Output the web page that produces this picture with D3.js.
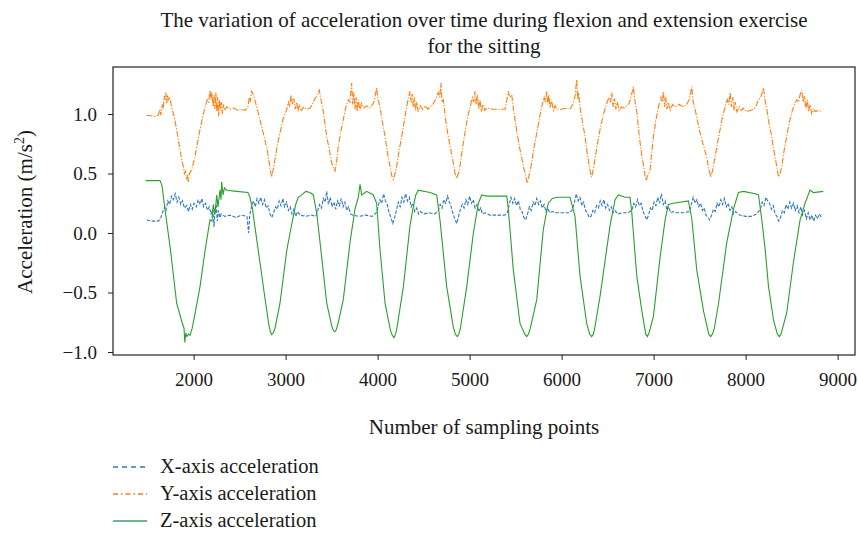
<!DOCTYPE html>
<html>
<head>
<meta charset="utf-8">
<script src="https://cdn.jsdelivr.net/npm/d3@7"></script>
<style>
  body { margin: 0; background: #fff; }
  text { font-family: "Liberation Serif", "DejaVu Serif", serif; fill: #1a1a1a; }
</style>
</head>
<body>
<div id="chart"></div>
<script>
const width = 858, height = 533;

// values: [sampling point, acceleration m/s^2]
const xAcc = [[1490,0.11],[1560,0.10],[1616,0.10],[1640,0.12],
  [1660,0.17],[1685,0.22],[1700,0.19],[1720,0.27],[1740,0.24],[1760,0.31],[1780,0.28],[1800,0.33],[1820,0.26],
  [1840,0.30],[1860,0.24],[1880,0.27],[1900,0.21],[1925,0.23],[1945,0.18],[1965,0.24],[1985,0.20],[2005,0.25],
  [2030,0.22],[2050,0.28],[2070,0.24],[2090,0.29],[2110,0.22],[2130,0.25],[2150,0.19],[2170,0.22],[2190,0.16],
  [2210,0.20],[2222,0.05],[2232,0.18],[2245,0.24],[2258,0.10],[2270,0.19],[2285,0.13],[2300,0.16],
  [2340,0.14],[2400,0.15],[2460,0.13],[2520,0.15],[2580,0.14],[2598,0.0],[2610,0.15],
  [2630,0.22],[2650,0.27],[2670,0.22],[2690,0.29],[2710,0.25],[2730,0.30],[2750,0.24],[2770,0.28],[2790,0.21],
  [2810,0.23],[2830,0.16],[2850,0.13],[2870,0.17],[2890,0.22],[2910,0.20],[2930,0.27],[2950,0.23],[2970,0.29],
  [2990,0.22],[3010,0.26],[3030,0.19],[3050,0.22],[3070,0.16],[3090,0.20],[3110,0.14],[3130,0.18],
  [3160,0.15],[3220,0.14],[3280,0.15],[3330,0.14],
  [3350,0.19],[3370,0.24],[3390,0.21],[3410,0.29],[3430,0.26],[3447,0.35],[3465,0.24],[3485,0.30],[3505,0.22],
  [3525,0.26],[3545,0.20],[3565,0.27],[3585,0.23],[3605,0.29],[3625,0.22],[3645,0.26],[3665,0.19],[3685,0.22],
  [3705,0.16],[3730,0.15],[3800,0.14],[3870,0.15],[3940,0.14],[3985,0.17],
  [4005,0.22],[4025,0.28],[4045,0.25],[4065,0.33],[4085,0.27],[4105,0.24],[4125,0.17],[4145,0.13],[4165,0.08],
  [4185,0.13],[4205,0.19],[4225,0.26],[4245,0.22],[4265,0.30],[4285,0.26],[4305,0.33],[4325,0.27],[4345,0.30],
  [4365,0.22],[4385,0.25],[4405,0.18],[4425,0.21],[4445,0.16],[4465,0.18],
  [4500,0.16],[4560,0.17],[4620,0.16],[4660,0.19],
  [4680,0.24],[4700,0.21],[4720,0.28],[4740,0.25],[4760,0.31],[4780,0.26],[4800,0.22],[4820,0.16],[4840,0.12],
  [4860,0.08],[4880,0.14],[4900,0.20],[4920,0.24],[4940,0.21],[4960,0.28],[4980,0.24],[5000,0.31],[5020,0.25],
  [5040,0.28],[5060,0.21],[5080,0.24],[5100,0.18],[5120,0.21],[5140,0.16],[5170,0.17],
  [5220,0.15],[5300,0.15],[5380,0.15],[5410,0.17],
  [5430,0.24],[5450,0.30],[5470,0.25],[5490,0.29],[5510,0.23],[5530,0.27],[5550,0.20],[5570,0.18],[5590,0.13],
  [5610,0.11],[5630,0.16],[5650,0.22],[5670,0.19],[5690,0.26],[5710,0.23],[5730,0.29],[5750,0.24],[5770,0.27],
  [5790,0.21],[5810,0.24],[5830,0.18],[5850,0.21],[5870,0.17],[5900,0.18],
  [5950,0.17],[6020,0.17],[6090,0.17],[6120,0.20],
  [6140,0.26],[6160,0.33],[6180,0.27],[6200,0.30],[6220,0.23],[6240,0.26],[6260,0.19],[6280,0.17],[6300,0.13],
  [6320,0.14],[6340,0.19],[6360,0.17],[6380,0.23],[6400,0.21],[6420,0.27],[6440,0.23],[6460,0.28],[6480,0.21],
  [6500,0.24],[6520,0.19],[6540,0.22],[6560,0.17],[6580,0.19],[6610,0.16],
  [6660,0.17],[6720,0.17],[6765,0.19],
  [6785,0.25],[6805,0.22],[6825,0.28],[6845,0.23],[6865,0.25],[6885,0.18],[6905,0.15],[6925,0.11],[6945,0.15],
  [6965,0.21],[6985,0.19],[7005,0.26],[7025,0.23],[7045,0.30],[7065,0.25],[7085,0.33],[7105,0.24],[7125,0.27],
  [7145,0.19],[7165,0.22],[7185,0.17],[7210,0.18],
  [7250,0.17],[7320,0.17],[7390,0.18],
  [7410,0.24],[7430,0.30],[7450,0.25],[7470,0.28],[7490,0.22],[7510,0.25],[7530,0.19],[7550,0.21],[7570,0.15],
  [7590,0.13],[7610,0.11],[7630,0.15],[7650,0.20],[7670,0.18],[7690,0.25],[7710,0.22],[7730,0.28],[7750,0.24],
  [7770,0.29],[7790,0.22],[7810,0.25],[7830,0.19],[7850,0.22],[7870,0.16],[7890,0.18],
  [7940,0.15],[8000,0.14],[8060,0.14],[8120,0.16],
  [8160,0.20],[8180,0.26],[8200,0.23],[8220,0.30],[8240,0.27],[8260,0.25],[8280,0.20],[8300,0.23],[8320,0.16],
  [8340,0.14],[8360,0.10],[8380,0.13],[8400,0.19],[8420,0.17],[8440,0.24],[8460,0.20],[8480,0.26],[8500,0.21],
  [8520,0.25],[8540,0.19],[8560,0.23],[8580,0.17],[8600,0.22],[8620,0.15],[8640,0.19],[8660,0.12],[8680,0.17],
  [8700,0.11],[8720,0.15],[8740,0.10],[8760,0.15],[8780,0.12],[8800,0.16],[8827,0.13]];

const yAcc = [[1490,0.99],[1580,0.98],[1616,0.99],[1635,1.04],[1645,0.99],[1660,1.08],[1671,1.04],[1680,1.15],
  [1689,1.12],[1698,1.18],[1708,1.09],[1716,1.16],[1725,1.12],[1740,1.14],[1762,1.06],[1790,0.97],[1816,0.87],
  [1852,0.70],[1875,0.60],[1888,0.56],[1900,0.50],[1912,0.52],[1925,0.45],[1935,0.49],[1942,0.43],[1955,0.50],
  [1979,0.53],[2015,0.64],[2040,0.75],[2070,0.87],[2100,0.98],[2124,1.06],[2150,1.12],[2165,1.10],[2178,1.20],
  [2190,1.12],[2200,1.18],[2212,1.06],[2222,1.16],[2232,1.04],[2242,1.18],[2252,1.02],[2262,1.14],[2272,0.98],
  [2282,1.12],[2292,1.04],[2302,1.10],[2312,1.00],[2325,1.08],[2340,1.03],[2360,1.06],[2400,1.04],[2440,1.05],
  [2480,1.03],[2520,1.04],[2560,1.03],[2590,1.06],[2605,1.14],[2615,1.10],[2630,1.19],[2649,1.16],[2665,1.12],
  [2686,1.06],[2722,0.95],[2750,0.86],[2776,0.78],[2800,0.70],[2820,0.60],[2835,0.52],[2849,0.47],[2862,0.52],
  [2885,0.62],[2910,0.74],[2939,0.84],[2970,0.95],[3012,1.04],[3030,1.10],[3045,1.06],[3060,1.16],[3075,1.08],
  [3090,1.13],[3105,1.04],[3120,1.10],[3135,1.02],[3150,1.08],[3170,1.03],[3200,1.06],[3230,1.04],[3265,1.05],
  [3290,1.08],[3320,1.13],[3345,1.16],[3366,1.20],[3385,1.12],[3410,1.02],[3447,0.81],[3475,0.70],[3501,0.59],
  [3520,0.54],[3537,0.52],[3555,0.60],[3573,0.73],[3600,0.85],[3627,0.95],[3655,1.06],[3682,1.12],[3700,1.10],
  [3718,1.26],[3730,1.08],[3742,1.18],[3754,1.04],[3766,1.14],[3778,1.02],[3790,1.12],[3809,1.03],[3825,1.09],
  [3850,1.05],[3880,1.07],[3910,1.05],[3936,1.07],[3960,1.10],[3975,1.16],[3990,1.22],[4005,1.12],[4026,1.06],
  [4050,0.94],[4081,0.81],[4110,0.66],[4135,0.56],[4155,0.48],[4171,0.45],[4190,0.50],[4207,0.56],[4235,0.70],
  [4262,0.81],[4290,0.94],[4316,1.06],[4335,1.14],[4352,1.19],[4365,1.10],[4375,1.17],[4388,1.06],[4400,1.14],
  [4412,1.03],[4425,1.10],[4440,1.02],[4461,1.07],[4490,1.04],[4520,1.07],[4545,1.04],[4570,1.06],[4600,1.08],
  [4630,1.12],[4660,1.18],[4675,1.14],[4689,1.26],[4700,1.10],[4714,1.12],[4740,0.95],[4768,0.81],[4795,0.70],
  [4823,0.59],[4842,0.50],[4860,0.46],[4878,0.50],[4895,0.56],[4920,0.70],[4949,0.84],[4975,0.96],[5005,1.06],
  [5030,1.14],[5045,1.10],[5059,1.19],[5072,1.08],[5085,1.16],[5098,1.04],[5113,1.12],[5128,1.02],[5145,1.08],
  [5165,1.03],[5186,1.05],[5250,1.04],[5320,1.04],[5385,1.04],[5400,1.10],[5421,1.19],[5435,1.14],[5458,1.16],
  [5475,1.05],[5494,0.95],[5520,0.82],[5548,0.70],[5575,0.60],[5602,0.50],[5615,0.46],[5627,0.42],[5645,0.48],
  [5675,0.59],[5700,0.72],[5730,0.84],[5757,0.96],[5784,1.06],[5810,1.14],[5825,1.10],[5838,1.19],[5850,1.08],
  [5862,1.16],[5874,1.05],[5890,1.12],[5910,1.03],[5930,1.07],[5947,1.04],[6000,1.04],[6050,1.05],[6091,1.04],
  [6120,1.08],[6146,1.15],[6164,1.29],[6175,1.12],[6185,1.18],[6200,1.06],[6225,0.94],[6255,0.81],[6280,0.66],
  [6301,0.56],[6315,0.50],[6327,0.47],[6345,0.54],[6363,0.62],[6390,0.75],[6418,0.87],[6455,1.00],[6490,1.09],
  [6515,1.14],[6530,1.10],[6545,1.18],[6560,1.06],[6575,1.13],[6590,1.04],[6605,1.10],[6625,1.03],[6654,1.06],
  [6680,1.05],[6708,1.07],[6735,1.09],[6760,1.16],[6780,1.23],[6795,1.12],[6817,1.02],[6835,0.88],[6853,0.76],
  [6870,0.66],[6889,0.57],[6905,0.49],[6919,0.44],[6935,0.48],[6962,0.53],[6980,0.68],[6998,0.81],[7025,0.95],
  [7053,1.06],[7080,1.14],[7095,1.10],[7107,1.19],[7120,1.06],[7132,1.14],[7144,1.04],[7160,1.10],[7180,1.03],
  [7205,1.08],[7234,1.06],[7280,1.08],[7320,1.06],[7360,1.08],[7385,1.12],[7400,1.17],[7415,1.23],[7430,1.10],
  [7451,1.04],[7478,0.94],[7505,0.84],[7540,0.74],[7577,0.64],[7600,0.54],[7621,0.47],[7640,0.52],[7668,0.64],
  [7695,0.76],[7723,0.87],[7750,0.98],[7777,1.06],[7800,1.12],[7815,1.08],[7832,1.18],[7845,1.06],[7860,1.14],
  [7875,1.03],[7886,1.10],[7905,1.02],[7930,1.06],[7955,1.03],[7977,1.05],[8010,1.02],[8050,1.03],[8090,1.04],
  [8120,1.08],[8140,1.12],[8165,1.14],[8180,1.18],[8194,1.22],[8210,1.12],[8231,1.04],[8255,0.92],[8284,0.81],
  [8300,0.72],[8321,0.64],[8340,0.55],[8358,0.47],[8375,0.50],[8393,0.56],[8420,0.70],[8447,0.81],[8475,0.93],
  [8501,1.01],[8530,1.08],[8556,1.12],[8575,1.10],[8595,1.17],[8610,1.20],[8625,1.10],[8640,1.15],[8655,1.04],
  [8670,1.12],[8685,1.02],[8700,1.08],[8720,1.00],[8740,1.04],[8760,1.02],[8790,1.03],[8827,1.02]];

const zAcc = [[1480,0.44],[1635,0.44],[1656,0.40],[1689,0.20],[1750,-0.15],[1816,-0.59],[1874,-0.75],[1896,-0.80],
  [1905,-0.92],[1915,-0.84],[1928,-0.87],[1945,-0.85],[1961,-0.86],[1985,-0.80],[2015,-0.68],[2070,-0.45],
  [2124,-0.15],[2178,0.11],[2200,0.10],[2214,0.24],[2233,0.16],[2251,0.32],[2265,0.22],[2287,0.36],[2298,0.28],
  [2305,0.43],[2320,0.32],[2335,0.38],[2360,0.36],[2468,0.35],[2591,0.34],[2613,0.30],[2640,0.20],[2667,0.05],
  [2722,-0.25],[2776,-0.55],[2820,-0.78],[2835,-0.83],[2849,-0.855],[2865,-0.84],[2885,-0.80],[2939,-0.59],
  [3012,-0.15],[3048,0.0],[3084,0.14],[3110,0.24],[3138,0.30],[3175,0.32],[3220,0.35],[3265,0.34],[3301,0.32],
  [3338,0.17],[3392,-0.20],[3447,-0.59],[3501,-0.78],[3520,-0.82],[3537,-0.83],[3552,-0.81],[3573,-0.75],
  [3627,-0.56],[3700,-0.08],[3754,0.20],[3790,0.30],[3809,0.41],[3827,0.32],[3882,0.35],[3953,0.32],[3990,0.25],
  [4026,-0.14],[4081,-0.59],[4140,-0.82],[4160,-0.86],[4178,-0.88],[4195,-0.85],[4210,-0.80],[4280,-0.45],
  [4352,0.06],[4388,0.22],[4415,0.32],[4443,0.36],[4570,0.34],[4642,0.32],[4678,0.11],[4751,-0.45],[4823,-0.79],
  [4845,-0.85],[4866,-0.87],[4882,-0.85],[4900,-0.80],[4969,-0.45],[5041,0.0],[5095,0.25],[5132,0.32],
  [5186,0.31],[5404,0.31],[5421,0.20],[5475,-0.31],[5548,-0.76],[5600,-0.85],[5621,-0.87],[5640,-0.85],
  [5660,-0.80],[5730,-0.56],[5801,0.03],[5855,0.25],[5900,0.29],[5947,0.30],[6091,0.30],[6146,0.14],[6200,-0.36],
  [6273,-0.76],[6305,-0.85],[6327,-0.87],[6345,-0.85],[6360,-0.80],[6418,-0.53],[6526,0.06],[6581,0.28],
  [6617,0.32],[6690,0.30],[6744,0.30],[6762,0.18],[6817,-0.36],[6871,-0.65],[6915,-0.85],[6933,-0.87],
  [6950,-0.84],[6998,-0.70],[7071,-0.20],[7125,0.11],[7161,0.24],[7215,0.25],[7378,0.27],[7415,0.12],
  [7469,-0.31],[7541,-0.65],[7600,-0.85],[7621,-0.87],[7640,-0.85],[7660,-0.80],[7706,-0.59],[7795,-0.08],
  [7868,0.20],[7922,0.34],[7977,0.35],[8104,0.33],[8140,0.32],[8176,0.11],[8213,-0.14],[8249,-0.45],
  [8303,-0.73],[8345,-0.85],[8367,-0.87],[8385,-0.85],[8447,-0.67],[8519,-0.25],[8592,0.11],[8646,0.25],
  [8700,0.36],[8736,0.34],[8845,0.35]];

const xTicks = [2000, 3000, 4000, 5000, 6000, 7000, 8000, 9000];
const yTicks = [-1.0, -0.5, 0.0, 0.5, 1.0];
const legendLabels = ["X-axis acceleration", "Y-axis acceleration", "Z-axis acceleration"];

const plot = { left: 113, right: 855, top: 67, bottom: 355 };

const svg = d3.select("#chart")
    .append("svg")
    .attr("width", width)
    .attr("height", height);

const x = d3.scaleLinear().domain([1124, 9189]).range([plot.left, plot.right]);
const y = d3.scaleLinear().domain([-1.025, 1.395]).range([plot.bottom, plot.top]);

const line = d3.line().x(d => x(d[0])).y(d => y(d[1]));

const series = [
    { data: xAcc, color: "#3179bd", dash: "3.5,1.6" },
    { data: yAcc, color: "#ff7f0e", dash: "6,1.6,1.2,1.6" },
    { data: zAcc, color: "#2ca02c", dash: null }
];

// lines
series.forEach(s => {
    svg.append("path")
        .attr("d", line(s.data))
        .attr("fill", "none")
        .attr("stroke", s.color)
        .attr("stroke-width", 1.1)
        .attr("stroke-dasharray", s.dash);
});

// axes
svg.append("g")
    .attr("transform", `translate(0,${plot.bottom})`)
    .call(d3.axisBottom(x).tickValues(xTicks).tickSize(5).tickPadding(13).tickFormat(d3.format("d")))
    .call(g => g.select(".domain").remove())
    .call(g => g.selectAll("text").style("font-size", "19px"));

svg.append("g")
    .attr("transform", `translate(${plot.left},0)`)
    .call(d3.axisLeft(y).tickValues(yTicks).tickSize(5).tickPadding(11).tickFormat(d3.format(".1f")))
    .call(g => g.select(".domain").remove())
    .call(g => g.selectAll("text").style("font-size", "19px"));

svg.selectAll(".tick line").attr("stroke", "#222");

// frame
svg.append("rect")
    .attr("x", plot.left)
    .attr("y", plot.top)
    .attr("width", plot.right - plot.left)
    .attr("height", plot.bottom - plot.top)
    .attr("fill", "none")
    .attr("stroke", "#222")
    .attr("stroke-width", 1.2);

// title
svg.append("text")
    .attr("x", 484).attr("y", 27)
    .attr("text-anchor", "middle")
    .style("font-size", "21px")
    .text("The variation of acceleration over time during flexion and extension exercise");
svg.append("text")
    .attr("x", 484).attr("y", 53)
    .attr("text-anchor", "middle")
    .style("font-size", "21px")
    .text("for the sitting");

// axis labels
svg.append("text")
    .attr("x", 484).attr("y", 434)
    .attr("text-anchor", "middle")
    .style("font-size", "21px")
    .text("Number of sampling points");

const yl = svg.append("text")
    .attr("transform", "translate(32,212) rotate(-90)")
    .attr("text-anchor", "middle")
    .style("font-size", "21px");
yl.append("tspan").text("Acceleration (m/s");
yl.append("tspan").attr("dy", -8).style("font-size", "14px").text("2");
yl.append("tspan").attr("dy", 8).text(")");

// legend
const legendColors = ["#3179bd", "#ff7f0e", "#3a9f6b"];
const legendDash = ["5,4", "5,3,1.5,3", null];
legendLabels.forEach((label, i) => {
    const ly = 467 + i * 27;
    svg.append("line")
        .attr("x1", 113).attr("x2", 147)
        .attr("y1", ly).attr("y2", ly)
        .attr("stroke", legendColors[i])
        .attr("stroke-width", 1.3)
        .attr("stroke-dasharray", legendDash[i]);
    svg.append("text")
        .attr("x", 160).attr("y", ly + 6)
        .style("font-size", "20.5px")
        .text(label);
});
</script>
</body>
</html>
